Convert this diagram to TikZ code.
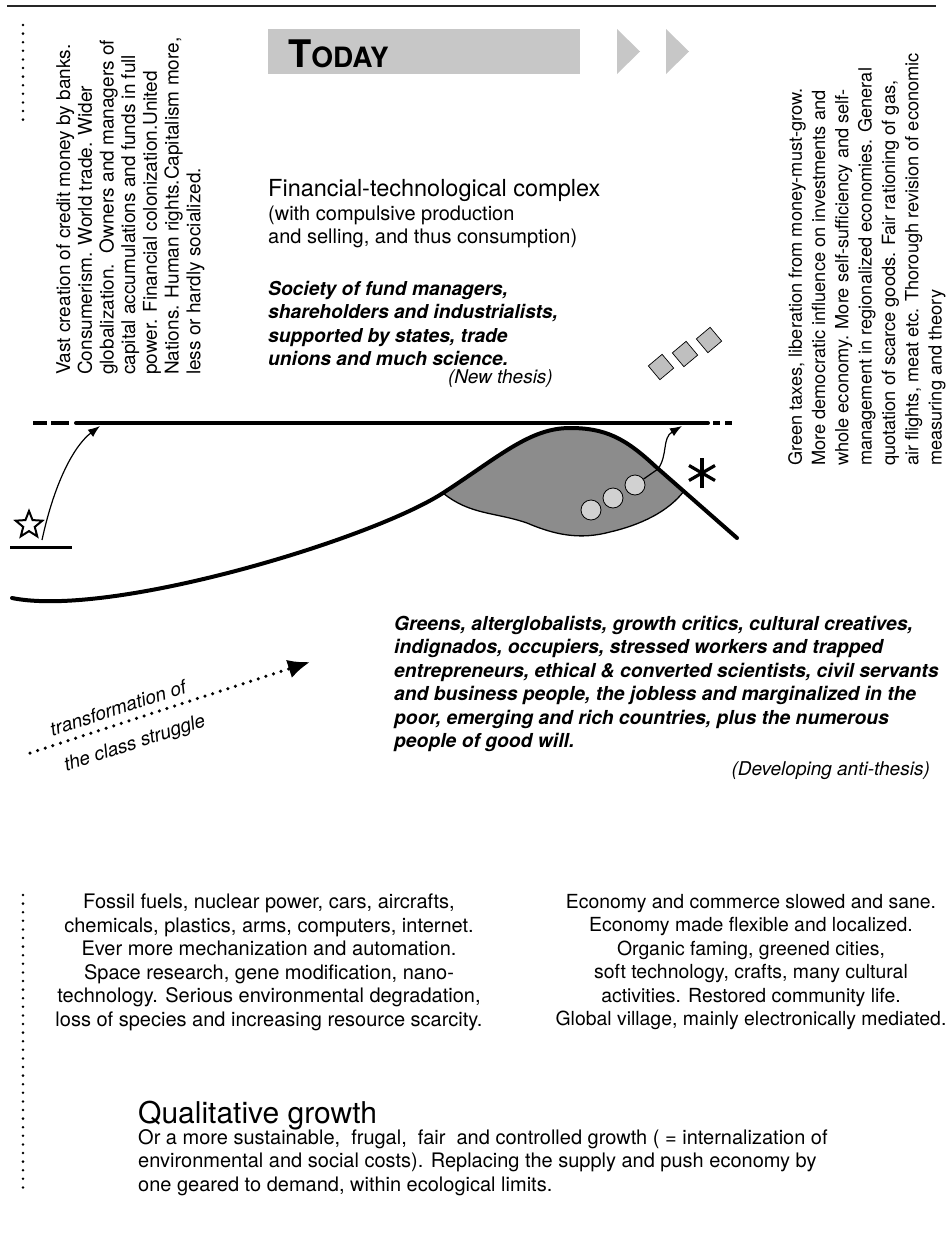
\documentclass[tikz,border=0pt]{standalone}
\usepackage{fontspec}
\setmainfont{TeX Gyre Heros}
\usetikzlibrary{arrows.meta,shapes.geometric,positioning}

\tikzset{
  toprule/.style={gray!30!black, line width=2pt},
  dotcol/.style={line width=2.8pt, dash pattern=on 0pt off 8.6pt, line cap=round},
  banner/.style={fill=black!22},
  mainline/.style={line width=4pt, line cap=round},
  vtext/.style={rotate=90, anchor=north west, align=left, inner sep=0pt},
  block/.style={align=center, inner sep=0pt, anchor=north, font=\fontsize{20}{23.5}\selectfont},
  tile/.style={draw, fill=black!25, rectangle, rotate=40, minimum size=18pt, inner sep=0pt, line width=0.7pt},
  pebble/.style={draw, fill=black!18, circle, minimum size=20pt, inner sep=0pt, line width=0.8pt}
}

\begin{document}
\begin{tikzpicture}[x=1pt, y=-1pt, >={Latex[length=12pt,width=9pt]}]
\useasboundingbox (0,0) rectangle (947,1253);
\draw[toprule] (7,6) -- (936,6);
\draw[dotcol] (23,25) -- (23,125);
\draw[dotcol] (23,895) -- (23,1194);

% banner
\fill[banner] (268,29) rectangle (580,74);
\fill[banner] (617,29) -- (640,51.5) -- (617,74) -- cycle;
\fill[banner] (666,29) -- (689,51.5) -- (666,74) -- cycle;
\node[anchor=base west, inner sep=0pt, font=\bfseries] (today) at (288,67)
  {\fontsize{38}{38}\selectfont T\fontsize{28}{28}\selectfont ODAY};

% side texts
\node[vtext, font=\fontsize{19}{21.7}\selectfont] (oldtxt) at (56,375)
  {Vast creation of credit money by banks.\\
   Consumerism. World trade. Wider\\
   globalization.\ \ Owners and managers of\\
   capital accumulations and funds in full\\
   power. Financial colonization.United\\
   Nations. Human rights.Capitalism more,\\
   less or hardly socialized.};
\node[vtext, font=\fontsize{18.2}{23.3}\selectfont] (newtxt) at (788,466)
  {Green taxes, liberation from money-must-grow.\\
   More democratic influence on investments and\\
   whole economy. More self-sufficiency and self-\\
   management in regionalized economies. General\\
   quotation of scarce goods. Fair rationing of gas,\\
   air flights, meat etc. Thorough revision of economic\\
   measuring and theory};

% thesis
\node[anchor=base west, inner sep=0pt, font=\fontsize{23.5}{26}\selectfont] (complex) at (268,196)
  {Financial-technological complex};
\node[anchor=north west, align=left, inner sep=0pt, font=\fontsize{20}{23}\selectfont] (complexsub) at (268,206)
  {(with compulsive production\\ and selling, and thus consumption)};
\node[anchor=north west, align=left, inner sep=0pt, font=\bfseries\itshape\fontsize{19.2}{23.4}\selectfont] (society) at (268,281)
  {Society of fund managers,\\ shareholders and industrialists,\\ supported by states, trade\\ unions and much science.};
\node[anchor=base east, inner sep=0pt, font=\itshape\fontsize{19}{19}\selectfont] (thesis) at (553,383) {(New thesis)};
\foreach \x/\y [count=\i] in {661/367,685/354,709/340}
  \node[tile] (tile\i) at (\x,\y) {};

% the ridge
\fill[black!45] (443,493) .. controls (470,515) and (495,512) .. (527,523)
  .. controls (555,535) and (580,540) .. (610,532) .. controls (640,525) and (668,512) .. (684,491)
  -- (655,466) .. controls (625,438) and (605,428) .. (570,428)
  .. controls (530,428) and (500,456) .. (443,493) -- cycle;
\draw[line width=1.3pt] (443,493) .. controls (470,515) and (495,512) .. (527,523)
  .. controls (555,535) and (580,540) .. (610,532) .. controls (640,525) and (668,512) .. (684,491);
\draw[mainline] (76,423) -- (708,423);
\draw[mainline, line cap=butt] (33,423) -- (47,423) (51,423) -- (69,423)
  (713,423) -- (720,423) (725,423) -- (732,423);
\draw[mainline] (12,598) .. controls (110,618) and (370,540) .. (443,493)
  .. controls (500,456) and (530,428) .. (570,428)
  .. controls (605,428) and (625,438) .. (655,466) -- (737,538);

% star and rise
\draw[line width=3pt] (10,547) -- (72,547);
\node[star, star points=5, star point ratio=2.3, draw, line width=2pt, minimum size=28pt, inner sep=0pt] (star) at (29,525) {};
\coordinate (rise) at (42,540);
\coordinate (hitL) at (100,426);
\draw[->, line width=1.2pt] (rise) .. controls (55,480) and (75,445) .. (hitL);

\foreach \x/\y [count=\i] in {591/510,613/498,635/485}
  \node[pebble] (pebble\i) at (\x,\y) {};
\coordinate (hitR) at (682,426);
\draw[->, line width=1.2pt] (pebble3) -- (658,469) .. controls (668,455) and (662,438) .. (hitR);

\coordinate (mark) at (702,473);
\foreach \a in {90,30,150}
  \draw[line width=3.2pt] (mark) +(\a:15) -- +(\a+180:15);

% class struggle
\coordinate (classfrom) at (30,753);
\coordinate (classto) at (310,662);
\draw[line width=3.5pt, dash pattern=on 0pt off 8pt, line cap=round, -{Latex[length=22pt,width=19pt]}] (classfrom) -- (classto);
\node[rotate=18, inner sep=0pt, font=\itshape\fontsize{19}{19}\selectfont] (classtop) at (118,708) {transformation of};
\node[rotate=18, inner sep=0pt, font=\itshape\fontsize{19}{19}\selectfont] (classbot) at (135,744) {the class struggle};

% anti-thesis
\node[anchor=north west, align=left, inner sep=0pt, font=\bfseries\itshape\fontsize{19.3}{23.4}\selectfont] (greens) at (394,616)
  {Greens, alterglobalists, growth critics, cultural creatives,\\
   indignados, occupiers, stressed workers and trapped\\
   entrepreneurs, ethical \& converted scientists, civil servants\\
   and business people, the jobless and marginalized in the\\
   poor, emerging and rich countries, plus the numerous\\
   people of good will.};
\node[anchor=base east, inner sep=0pt, font=\itshape\fontsize{19}{19}\selectfont] (anti) at (930,775) {(Developing anti-thesis)};

% bottom
\node[block] (oldtech) at (269,894)
  {Fossil fuels, nuclear power, cars, aircrafts,\\
   chemicals, plastics, arms, computers, internet.\\
   Ever more mechanization and automation.\\
   Space research, gene modification, nano-\\
   technology. Serious environmental degradation,\\
   loss of species and increasing resource scarcity.};
\node[block, font=\fontsize{19.4}{23.5}\selectfont] (newtech) at (751,894)
  {Economy and commerce slowed and sane.\\
   Economy made flexible and localized.\\
   Organic faming, greened cities,\\
   soft technology, crafts, many cultural\\
   activities. Restored community life.\\
   Global village, mainly electronically mediated.};
\node[anchor=north west, inner sep=0pt, font=\fontsize{30}{30}\selectfont] (qualhead) at (138,1101) {Qualitative growth};
\node[anchor=north west, align=left, inner sep=0pt, font=\fontsize{20}{23.5}\selectfont] (qualtxt) at (138,1129)
  {Or a more sustainable,\ \ frugal,\ \ fair\ \ and controlled growth ( = internalization of\\
   environmental and social costs). Replacing the supply and push economy by\\
   one geared to demand, within ecological limits.};
\end{tikzpicture}
\end{document}
